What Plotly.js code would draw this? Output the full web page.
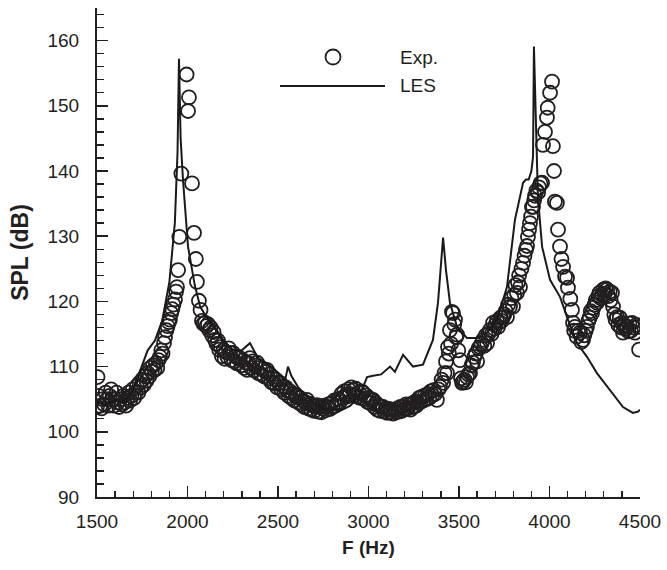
<!DOCTYPE html>
<html>
<head>
<meta charset="utf-8">
<script src="https://cdn.plot.ly/plotly-3.0.1.min.js"></script>
<style>html,body{margin:0;padding:0;background:#fff;}#chart{width:667px;height:570px;}</style>
</head>
<body>
<div id="chart"></div>
<script>
// LES (solid line)
const lesFreq = [1500,1550,1600,1650,1700,1740,1780,1820,1860,1900,1930,1945,1953,1962,1975,2003,2040,2070,2113,2160,2200,2250,2300,2345,2390,2440,2500,2540,2555,2575,2610,2677,2750,2800,2850,2900,2950,2992,3025,3070,3119,3146,3191,3246,3301,3356,3384,3412,3428,3450,3489,3544,3600,3655,3710,3765,3809,3854,3870,3885,3900,3909,3914,3925,3936,3959,4003,4058,4102,4152,4207,4262,4334,4406,4461,4490,4500];
const lesSpl  = [104.5,104.2,104.8,104.5,106.5,109.5,112.5,114,117,123,132,143,157.2,145,138.7,128.4,122.5,119.2,117.2,115.5,114,112.5,112.5,113.6,111.3,110.5,109,108,110,108.5,106.9,104.9,103.5,103.5,103.3,104,105.5,108.4,108.6,108.8,110,109.2,111.8,110,110.3,114.1,119.8,129.8,124.8,119.8,116.1,114.4,114.4,115.2,117.2,122.2,132.5,138.2,138.7,138.7,140,142.2,159.1,146.3,136,128.4,123.3,120.7,117.2,113.6,111.5,109,106.4,103.8,102.9,103.1,103.4];

// Experiment (open circles)
const expFreq = [1500,1503,1510,1518,1525,1532,1540,1548,1556,1563,1570,1578,1585,1593,1600,1608,1615,1622,1630,1638,1645,1652,1660,1668,1675,1683,1690,1698,1705,1713,1720,1728,1735,1743,1750,1758,1765,1773,1780,1788,1795,1803,1810,
1818,1825,1833,1840,1848,1855,1862,1870,1876,1884,1890,1897,1903,1910,1916,1922,1931,1937,1942,1948,1955,1966,
1995,2003,2008,2025,2036,2046,2052,2063,2072,2080,2088,2097,2105,2113,2120,2128,2136,2144,2152,2160,2168,2175,2183,2190,2198,2205,2212,2220,2228,2235,2243,2251,2258,2265,2273,2280,2290,2298,2306,2314,2322,2330,2338,2345,2352,2360,2368,2376,2384,2392,2400,2408,2416,2424,2432,2439,2447,2455,2463,2472,2480,2488,2496,2503,2511,2519,2527,2535,2543,2550,2558,2566,2574,2582,2590,2598,2605,2613,2621,2629,2637,2645,2652,2660,2668,2676,2684,2692,2700,2708,2716,2724,2732,2740,2748,2755,2763,2771,2779,2787,2795,2803,2811,2818,2826,2834,2842,2850,2858,2866,2874,2881,2889,2897,2905,2914,2922,2930,2938,2946,2954,2962,2970,2978,2986,2994,3002,3010,3018,3025,3033,3041,3049,3057,3064,3072,3080,3088,3096,3104,3112,3120,3128,3136,3144,3152,3160,3168,3176,3184,3192,3200,3208,3216,3224,3232,3240,3248,3256,3264,3272,3280,3288,3296,3304,3312,3320,3328,3336,3344,3352,3360,3368,3378,3386,3395,3404,3412,3420,3428,3434,3439,3444,3450,3456,3461,3467,3474,3478,3484,3489,3496,3506,3511,3517,3522,3530,3538,3544,3552,3561,3569,3577,3585,3593,3600,3608,3616,3624,3633,3640,3648,3655,3662,3671,3680,3688,3695,3702,3710,3716,3724,3730,3736,3743,3750,3758,3765,3772,3782,3790,3798,3805,3812,3820,3826,3832,3837,3845,3854,3862,3870,3876,3881,3887,3892,3898,3903,3909,3915,3920,3928,3937,3942,3950,3959,3964,3975,3986,3990,4003,4014,4019,4025,4030,4041,4047,4058,4066,4075,4086,4097,4102,4115,4124,4130,4136,4141,4150,4158,4168,4176,4185,4192,4200,4207,4215,4222,4228,4235,4242,4250,4256,4262,4270,4276,4283,4290,4297,4304,4310,4318,4325,4333,4338,4345,4351,4358,4365,4373,4380,4388,4395,4400,4406,4414,4420,4428,4436,4442,4450,4456,4464,4472,4480,4490,4495];
const expSpl = [103.8,108.4,105.5,104,103.6,105,104.2,106,105,104,105.5,106.5,105,104,105,106,104.5,103.8,105,104.2,105.5,104.5,104,105.2,106,104.8,105.5,106.5,105.2,106,107,106,107.5,106.8,108,107.2,108.5,107.8,109,108.5,109.8,109.2,110.2,
109.5,110.5,109.8,111,111.5,112.5,112,113.6,114.5,115.6,116.2,116.8,117.2,118.2,118.8,119.5,120.3,121.5,122.2,124.8,129.9,139.6,
154.8,149.2,151.3,138.1,130.5,126.5,123,120.1,118.7,117,116.6,116.7,116.2,116.5,115.6,116,114.8,115.3,114.1,113.5,114,112.6,113,111.6,112.5,111.2,112.2,111.5,112.8,112.1,111,112.1,110.8,111.6,110.5,111.3,111.3,110.2,111,109.8,110.6,109.5,110.5,111.3,109.8,110.8,109.4,110.2,110.6,109,109.8,108.8,109.6,108.5,109.2,109.5,108.2,108.8,107.6,108.4,107.4,108,106.8,107.5,107.5,106.5,107,106,106.8,106.4,105.5,106.2,105.2,105.8,104.8,105.5,105.4,104.5,105.2,104.2,104.8,103.8,104.5,104.9,103.6,104.3,103.4,104,103.2,103.9,104.1,103.1,103.8,103,103.6,104,103.3,103.8,104.2,103.5,104.4,103.8,104.8,104,104.4,105,104.6,105.8,105.2,106.2,105.6,105.4,106.5,105.8,106.8,106.4,105.6,106.6,105.4,106,105.2,106.2,106,105,105.6,104.6,105.2,104.4,104.8,104.9,103.8,104.4,103.4,104,103.2,103.8,103.8,103.1,103.6,102.9,103.5,103,103.4,102.8,103.3,103,103.6,103.1,103.8,103.2,103.9,103.5,104.2,103.6,104.1,103.4,104.3,103.8,104.6,104,104.5,105.2,104.6,105.4,104.8,105.6,105,105.8,105.2,106.2,105.6,106.4,105.8,104.9,106.5,106.9,108,107.5,109,110.8,109,113,112,115.6,113.5,118.4,118.2,116.5,117.2,114.5,114.9,112.5,111,108.2,107.5,107.7,108,107.6,108.4,108.8,109,110.2,110.6,111.5,112,110.8,112.8,113,113.5,114.1,113.2,114.8,113.6,115,115.6,115,116.7,115.8,116.4,117,116.1,116.8,117.5,117,117.6,118,118.5,117.6,119.5,119.2,120.5,119.2,121,122.5,121.3,122.9,124,122.2,125,125.9,127,127.9,128.5,129.9,131,132,133,134.5,134.5,135.5,136.2,137,136.7,137.5,138.1,138.2,144,146,148.2,149.7,152,153.7,143.8,140,135.3,135.1,131,128.4,126.5,125.3,123.8,123.6,122.1,120.4,118.7,116.7,115.5,116.1,114.6,115.5,115.2,113.8,114.1,114.8,115.5,116.1,117,117.5,118.5,118.2,119,119.5,120.2,119.8,120.8,121.3,120.5,121,121.8,121.2,122,121.8,120.8,121.5,120.2,121.3,119.2,118,117.2,117.6,116.4,117.5,116,116.7,115.2,116.4,115.8,116.1,115.4,116.6,115.5,116.7,116,115.2,116.4,116.1,112.6];

const xTicks = [1500,2000,2500,3000,3500,4000,4500];
const yTicks = [90,100,110,120,130,140,150,160];
const seriesNames = ['Exp.','LES'];

const FONT = '"Liberation Sans", Arial, sans-serif';
const INK = '#231f20';

// plot-area pixel geometry (for the hand-placed legend)
const L = 97, R = 27, T = 8, B = 73, W = 667, H = 570;
const pw = W - L - R, ph = H - T - B;
const px = v => (v - L) / pw;
const py = v => (H - B - v) / ph;

const traces = [
  {x: expFreq, y: expSpl, name: seriesNames[0], type: 'scatter', mode: 'markers',
   marker: {symbol: 'circle-open', size: 14, color: INK, line: {width: 1.8, color: INK}},
   showlegend: false, cliponaxis: true},
  {x: lesFreq, y: lesSpl, name: seriesNames[1], type: 'scatter', mode: 'lines',
   line: {color: '#1a1a1a', width: 2}, showlegend: false}
];

const axisCommon = {
  showgrid: false, zeroline: false, showline: true, linecolor: INK, linewidth: 2,
  ticks: 'inside', tickcolor: INK, tickwidth: 1.6, ticklen: 11,
  tickfont: {family: FONT, size: 19, color: INK},
  mirror: false
};

const layout = {
  width: W, height: H,
  margin: {l: L, r: R, t: T, b: B, pad: 0},
  paper_bgcolor: '#fff', plot_bgcolor: '#fff',
  font: {family: FONT, color: INK},
  showlegend: false,
  xaxis: Object.assign({}, axisCommon, {
    range: [1500, 4500], tickvals: xTicks, ticktext: xTicks.map(String),
    ticklabelstandoff: 6,
    minor: {dtick: 100, tick0: 1500, ticks: 'inside', ticklen: 6, tickwidth: 1.4, tickcolor: INK, showgrid: false},
    title: {text: '<b>F (Hz)</b>', font: {family: FONT, size: 19, color: INK}, standoff: 10}
  }),
  yaxis: Object.assign({}, axisCommon, {
    range: [90, 165], tickvals: yTicks, ticktext: yTicks.map(String),
    ticklabelstandoff: 12,
    minor: {dtick: 2, tick0: 90, ticks: 'inside', ticklen: 7, tickwidth: 1.4, tickcolor: INK, showgrid: false},
    title: {text: '<b>SPL (dB)</b>\u00a0\u00a0\u00a0\u00a0\u00a0', font: {family: FONT, size: 23, color: INK}, standoff: 12}
  }),
  shapes: [
    {type: 'circle', xref: 'paper', yref: 'paper', xsizemode: 'pixel', ysizemode: 'pixel',
     xanchor: px(333), yanchor: py(57), x0: -7.5, x1: 7.5, y0: -7.5, y1: 7.5,
     line: {color: INK, width: 1.8}},
    {type: 'line', xref: 'paper', yref: 'paper', x0: px(280), x1: px(385), y0: py(86), y1: py(86),
     line: {color: '#1a1a1a', width: 2}}
  ],
  annotations: [
    {text: seriesNames[0], xref: 'paper', yref: 'paper', x: px(398), y: py(57), xanchor: 'left', yanchor: 'middle',
     showarrow: false, font: {family: FONT, size: 19, color: INK}},
    {text: seriesNames[1], xref: 'paper', yref: 'paper', x: px(398), y: py(86), xanchor: 'left', yanchor: 'middle',
     showarrow: false, font: {family: FONT, size: 19, color: INK}}
  ]
};

Plotly.newPlot('chart', traces, layout, {displayModeBar: false, staticPlot: true});
</script>
</body>
</html>
